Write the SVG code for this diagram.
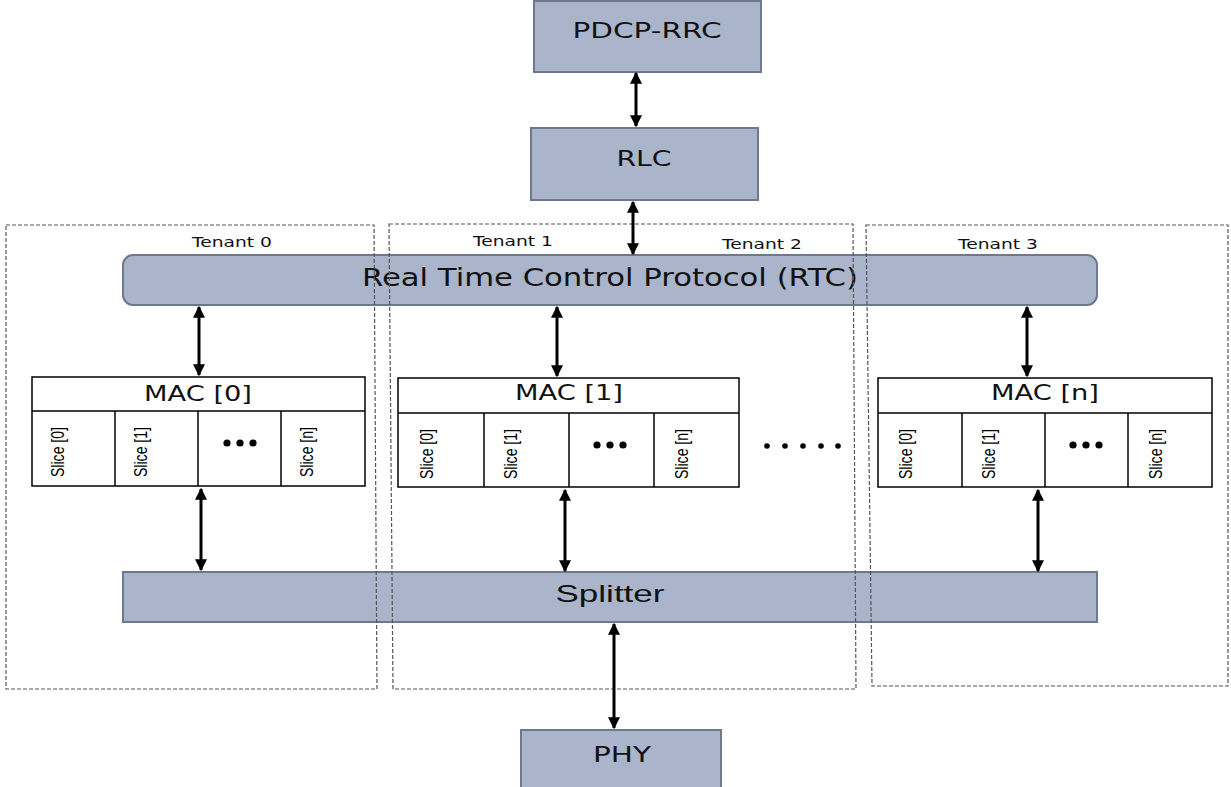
<svg xmlns="http://www.w3.org/2000/svg" width="1231" height="787" viewBox="0 0 1231 787">
<defs>
<marker id="ah" viewBox="0 0 10 10" refX="9" refY="5" markerWidth="4" markerHeight="4" orient="auto-start-reverse" markerUnits="strokeWidth">
<path d="M0,0 L10,5 L0,10 z" fill="#000"/>
</marker>
</defs>
<style>
.blk{fill:#aab4cb;stroke:#6e788c;stroke-width:2}
.ten{fill:none;stroke:#555;stroke-width:1.2;stroke-dasharray:4 2}
.tl{font-family:"DejaVu Sans",sans-serif;font-size:14px;fill:#111;text-anchor:middle}
.big{font-family:"DejaVu Sans",sans-serif;fill:#111;text-anchor:middle}
.mac{fill:#fff;stroke:#000;stroke-width:1.5}
.sl{font-family:"Liberation Sans Narrow","Liberation Sans",sans-serif;font-size:18px;fill:#000;text-anchor:middle}
.dot{fill:#000}
.conn line{stroke:#000;stroke-width:3;marker-start:url(#ah);marker-end:url(#ah)}
</style>
<rect width="1231" height="787" fill="#fff"/>

<g id="pdcp">
<rect class="blk" x="534" y="1" width="227" height="71"/>
<text class="big" x="647" y="38" style="font-size:21px" textLength="149" lengthAdjust="spacingAndGlyphs">PDCP-RRC</text>
</g>
<g id="rlc">
<rect class="blk" x="531" y="128" width="227" height="72"/>
<text class="big" x="644" y="166" style="font-size:21px" textLength="55" lengthAdjust="spacingAndGlyphs">RLC</text>
</g>

<g id="rtc">
<rect class="blk" x="123" y="255" width="974" height="50" rx="10"/>
<text class="big" x="610" y="286" style="font-size:24px" textLength="496" lengthAdjust="spacingAndGlyphs">Real Time Control Protocol (RTC)</text>
</g>

<g id="splitter">
<rect class="blk" x="123" y="572" width="974" height="50"/>
<text x="610" y="602" style="font-family:'Liberation Sans Narrow','Liberation Sans',sans-serif;font-size:24px" fill="#111" text-anchor="middle" textLength="109" lengthAdjust="spacingAndGlyphs">Splitter</text>
</g>

<g id="phy">
<rect class="blk" x="521" y="730" width="200" height="62"/>
<text class="big" x="622" y="762" style="font-size:21px" textLength="58" lengthAdjust="spacingAndGlyphs">PHY</text>
</g>

<g id="tenant0">
<path class="ten" d="M6,225 H374 L377,689 H6 Z"/>
<text class="tl" x="232" y="247" textLength="80" lengthAdjust="spacingAndGlyphs">Tenant 0</text>
</g>
<g id="tenant1">
<path class="ten" d="M389,224 H853 L856,689 H393 Z"/>
<text class="tl" x="513" y="246" textLength="80" lengthAdjust="spacingAndGlyphs">Tenant 1</text>
</g>
<g id="tenant2">
<text class="tl" x="762" y="249" textLength="80" lengthAdjust="spacingAndGlyphs">Tenant 2</text>
</g>
<g id="tenant3">
<path class="ten" d="M866,225 H1228 V686 H872 Z"/>
<text class="tl" x="998" y="249" textLength="80" lengthAdjust="spacingAndGlyphs">Tenant 3</text>
</g>

<g id="mac0">
<rect class="mac" x="32" y="377" width="333" height="109"/>
<line x1="32" y1="411" x2="365" y2="411" stroke="#000" stroke-width="1.5"/>
<line x1="115" y1="411" x2="115" y2="486" stroke="#000" stroke-width="1.5"/>
<line x1="198" y1="411" x2="198" y2="486" stroke="#000" stroke-width="1.5"/>
<line x1="281" y1="411" x2="281" y2="486" stroke="#000" stroke-width="1.5"/>
<text class="big" x="198" y="401" style="font-size:21px" textLength="108" lengthAdjust="spacingAndGlyphs">MAC [0]</text>
<text class="sl" transform="translate(64,452) rotate(-90)" textLength="50" lengthAdjust="spacingAndGlyphs">Slice [0]</text>
<text class="sl" transform="translate(147,452) rotate(-90)" textLength="50" lengthAdjust="spacingAndGlyphs">Slice [1]</text>
<text class="sl" transform="translate(313,452) rotate(-90)" textLength="50" lengthAdjust="spacingAndGlyphs">Slice [n]</text>
<circle class="dot" cx="227" cy="443" r="3.6"/><circle class="dot" cx="240" cy="443" r="3.6"/><circle class="dot" cx="253" cy="443" r="3.6"/>
</g>

<g id="mac1">
<rect class="mac" x="398" y="378" width="341" height="109"/>
<line x1="398" y1="413" x2="739" y2="413" stroke="#000" stroke-width="1.5"/>
<line x1="484" y1="413" x2="484" y2="487" stroke="#000" stroke-width="1.5"/>
<line x1="569" y1="413" x2="569" y2="487" stroke="#000" stroke-width="1.5"/>
<line x1="654" y1="413" x2="654" y2="487" stroke="#000" stroke-width="1.5"/>
<text class="big" x="569" y="400" style="font-size:21px" textLength="108" lengthAdjust="spacingAndGlyphs">MAC [1]</text>
<text class="sl" transform="translate(433,454) rotate(-90)" textLength="50" lengthAdjust="spacingAndGlyphs">Slice [0]</text>
<text class="sl" transform="translate(517,454) rotate(-90)" textLength="50" lengthAdjust="spacingAndGlyphs">Slice [1]</text>
<text class="sl" transform="translate(688,454) rotate(-90)" textLength="50" lengthAdjust="spacingAndGlyphs">Slice [n]</text>
<circle class="dot" cx="597" cy="445" r="3.6"/><circle class="dot" cx="610" cy="445" r="3.6"/><circle class="dot" cx="623" cy="445" r="3.6"/>
</g>

<g id="ellipsis">
<circle class="dot" cx="767" cy="446" r="2.8"/><circle class="dot" cx="785" cy="446" r="2.8"/><circle class="dot" cx="803" cy="446" r="2.8"/><circle class="dot" cx="821" cy="446" r="2.8"/><circle class="dot" cx="838" cy="446" r="2.8"/>
</g>

<g id="macn">
<rect class="mac" x="878" y="378" width="334" height="109"/>
<line x1="878" y1="413" x2="1212" y2="413" stroke="#000" stroke-width="1.5"/>
<line x1="962" y1="413" x2="962" y2="487" stroke="#000" stroke-width="1.5"/>
<line x1="1045" y1="413" x2="1045" y2="487" stroke="#000" stroke-width="1.5"/>
<line x1="1128" y1="413" x2="1128" y2="487" stroke="#000" stroke-width="1.5"/>
<text class="big" x="1045" y="400" style="font-size:21px" textLength="108" lengthAdjust="spacingAndGlyphs">MAC [n]</text>
<text class="sl" transform="translate(912,454) rotate(-90)" textLength="50" lengthAdjust="spacingAndGlyphs">Slice [0]</text>
<text class="sl" transform="translate(995,454) rotate(-90)" textLength="50" lengthAdjust="spacingAndGlyphs">Slice [1]</text>
<text class="sl" transform="translate(1162,454) rotate(-90)" textLength="50" lengthAdjust="spacingAndGlyphs">Slice [n]</text>
<circle class="dot" cx="1073" cy="445" r="3.6"/><circle class="dot" cx="1086" cy="445" r="3.6"/><circle class="dot" cx="1099" cy="445" r="3.6"/>
</g>

<g id="connectors" class="conn">
<line x1="636" y1="73" x2="636" y2="126"/>
<line x1="633" y1="202" x2="633" y2="254"/>
<line x1="199" y1="307" x2="199" y2="375"/>
<line x1="557" y1="307" x2="557" y2="376"/>
<line x1="1027" y1="307" x2="1027" y2="376"/>
<line x1="201" y1="489" x2="201" y2="570"/>
<line x1="565" y1="490" x2="565" y2="571"/>
<line x1="1038" y1="490" x2="1038" y2="571"/>
<line x1="614" y1="624" x2="614" y2="728"/>
</g>
</svg>
